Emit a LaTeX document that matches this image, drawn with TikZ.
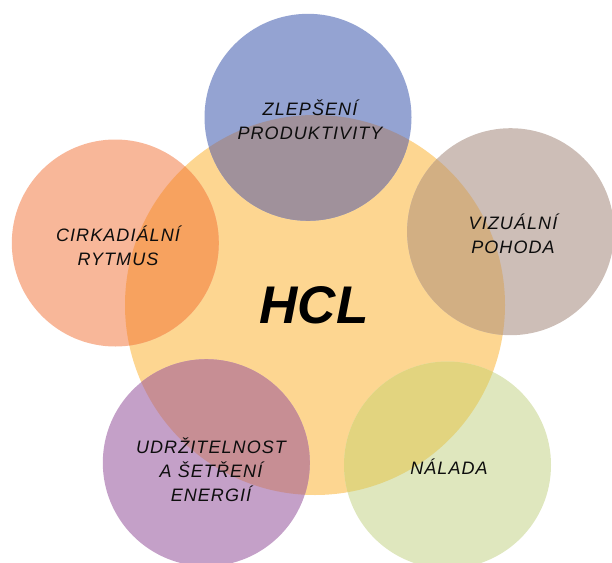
\documentclass[tikz,border=0pt]{standalone}
\usepackage{fontspec}
\setmainfont{Liberation Sans}
\newfontfamily\lblfont[LetterSpace=6]{Liberation Sans}
\definecolor{cCenter}{HTML}{FDD691}
\definecolor{cTop}{HTML}{94A3D2}
\definecolor{oTop}{HTML}{A0919B}
\definecolor{cLeft}{HTML}{F8B799}
\definecolor{oLeft}{HTML}{F7A25F}
\definecolor{cRight}{HTML}{CDBEB7}
\definecolor{oRight}{HTML}{D2AF83}
\definecolor{cBL}{HTML}{C4A0C8}
\definecolor{oBL}{HTML}{C78E94}
\definecolor{cBR}{HTML}{DFE7BE}
\definecolor{oBR}{HTML}{E2D47F}
\begin{document}
\begin{tikzpicture}[x=1pt,y=-1pt,
  bubble/.style={circle,inner sep=0pt,minimum size=207pt,draw=none},
  hub/.style={circle,inner sep=0pt,minimum size=380pt,draw=none,fill=cCenter},
  lbl/.style={font=\lblfont\itshape\fontsize{18}{24}\selectfont,align=center,text=black!95},
  title/.style={font=\bfseries\itshape\fontsize{53}{60}\selectfont,text=black}]
\useasboundingbox (0,0) rectangle (612,562);
% center circle
\node[hub] (hcl) at (315,305) {};
% satellite circles
\node[bubble,fill=cTop] (ctop) at (308,117.3) {};
\node[bubble,fill=cLeft] (cleft) at (115.3,243) {};
\node[bubble,fill=cRight] (cright) at (510.6,231.7) {};
\node[bubble,fill=cBL] (cbl) at (206.3,462.7) {};
\node[bubble,fill=cBR] (cbr) at (447.5,465) {};
% overlaps
\begin{scope}\clip (308,117.3) circle (103.5pt); \fill[oTop] (315,305) circle (190pt);\end{scope}
\begin{scope}\clip (115.3,243) circle (103.5pt); \fill[oLeft] (315,305) circle (190pt);\end{scope}
\begin{scope}\clip (510.6,231.7) circle (103.5pt); \fill[oRight] (315,305) circle (190pt);\end{scope}
\begin{scope}\clip (206.3,462.7) circle (103.5pt); \fill[oBL] (315,305) circle (190pt);\end{scope}
\begin{scope}\clip (447.5,465) circle (103.5pt); \fill[oBR] (315,305) circle (190pt);\end{scope}
% labels
\node[title] (t) at (314,305) {HCL};
\node[lbl] (l1) at (310,120) {ZLEPŠENÍ\\PRODUKTIVITY};
\node[lbl] (l2) at (118,245.5) {CIRKADIÁLNÍ\\RYTMUS};
\node[lbl] (l3) at (513,234) {VIZUÁLNÍ\\POHODA};
\node[lbl] (l4) at (211,470) {UDRŽITELNOST\\A ŠETŘENÍ\\ENERGIÍ};
\node[lbl] (l5) at (449,467) {NÁLADA};
\end{tikzpicture}
\end{document}
